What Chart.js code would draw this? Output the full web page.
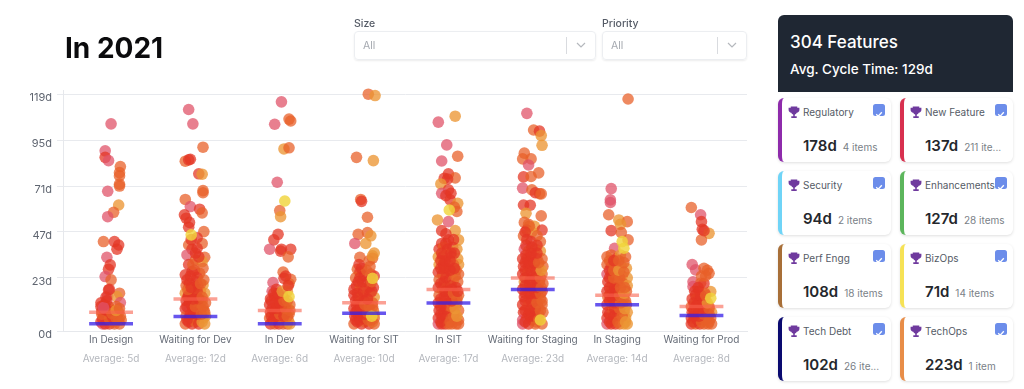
<!DOCTYPE html>
<html>
<head>
<meta charset="utf-8">
<script src="https://cdn.jsdelivr.net/npm/chart.js@4/dist/chart.umd.min.js"></script>
<style>
    * { box-sizing: border-box; }
    html, body { margin: 0; width: 1024px; height: 389px; overflow: hidden; background: #fff; font-family: Inter, sans-serif; }
    #myChart { position: absolute; left: 0; top: 0; }
    .title { position: absolute; left: 65px; top: 32px; font-size: 28px; line-height: 32px; font-weight: 700; color: #0b0b0d; }
    .fieldLabel { position: absolute; top: 17px; font-size: 10.5px; line-height: 13px; font-weight: 500; color: #555b66; }
    .select { position: absolute; top: 31px; height: 29px; border: 1px solid #eceef1; border-radius: 4px; box-shadow: 0 1px 2px rgba(0,0,0,.08); font-size: 10.5px; line-height: 27px; color: #a5a9b0; padding-left: 8px; }
    .select i { position: absolute; right: 28px; top: 5px; height: 17px; border-left: 1px solid #d9dbdf; }
    .select svg { position: absolute; right: 9px; top: 10px; }
    .head { position: absolute; left: 778px; top: 15px; width: 235px; height: 77px; background: #1f2733; border-radius: 6px 6px 0 0; color: #fff; }
    .head b { position: absolute; left: 12px; top: 16px; font-size: 17px; line-height: 22px; font-weight: 500; }
    .head span { position: absolute; left: 12px; top: 45px; font-size: 13.5px; line-height: 18px; font-weight: 500; }
    .card { position: absolute; width: 113px; height: 64px; background: #fff; border-radius: 6px; border-left: 4px solid; box-shadow: 0 1px 3px rgba(0,0,0,.13); }
    .card svg.cup { position: absolute; left: 6px; top: 8px; }
    .card .name { position: absolute; left: 21px; top: 7px; font-size: 10px; line-height: 14px; color: #555b66; white-space: nowrap; }
    .card .check { position: absolute; left: 91px; top: 6px; width: 12px; height: 12px; border-radius: 2.5px; background: #6c8dea; }
    .card .stat { position: absolute; left: 21px; top: 38px; display: flex; align-items: baseline; gap: 6px; white-space: nowrap; }
    .card .days { font-size: 15px; line-height: 20px; font-weight: 600; color: #24272c; }
    .card .items { font-size: 10px; line-height: 14px; color: #7a7f87; }
</style>
</head>
<body>
<canvas id="myChart" width="760" height="389"></canvas>
<div class="title">In 2021</div>
<div class="fieldLabel" style="left:354px">Size</div>
<div class="select" style="left:354px;width:242px">All<i></i><svg width="10" height="7"><path d="M1 1l4 4 4-4" fill="none" stroke="#b5b8bd" stroke-width="1.2"/></svg></div>
<div class="fieldLabel" style="left:602px">Priority</div>
<div class="select" style="left:602px;width:145px">All<i></i><svg width="10" height="7"><path d="M1 1l4 4 4-4" fill="none" stroke="#b5b8bd" stroke-width="1.2"/></svg></div>
<div class="head"><b>304 Features</b><span>Avg. Cycle Time: 129d</span></div>
<div id="cards"></div>

<script>
"use strict";

//region Data
const categories = ["In Design", "Waiting for Dev", "In Dev", "Waiting for SIT", "In SIT", "Waiting for Staging", "In Staging", "Waiting for Prod"];
const averages = [5, 12, 6, 10, 17, 23, 14, 8];
const blueMarks = [-1, 2.8, -1, 4.5, 9.9, 17, 9, 3.3];
const yTicks = [0, 23, 47, 71, 95, 119];

// every dot: [sideways jitter inside its column, days, tone]
const inDesign = [[0,103.5,0],[-.07,89.4,0],[-.07,86,1],[-.03,84.3,0],[.11,81.2,2],[.1,78,2],[.1,76.3,2],[.1,72,2],[.1,71,2],[-.04,68.3,0],[.09,61.1,3],[.03,57.3,2],[-.04,55,0],[-.09,42,2],[.04,42,1],[.09,40.2,1],[.07,38,1],[-.05,33.8,0],[-.01,29.8,1],[-.03,27.5,1],[-.07,23.7,0],[0,22,2],[-.03,16.7,1],[-.04,13.6,0],[.1,15,2],[.07,13.2,3],[.11,10.1,0],[-.12,8,1],[-.02,6.3,3],
    [-.12,0,1],[-.09,3,1],[-.11,5.5,1],[-.06,1,2],[-.05,5,1],[-.02,-1,1],[-.01,3,2],[.02,6,2],[.03,0,1],[.05,4,2],[.07,1,3],[.09,5,2],[.1,-1,2],[.11,3,2],[-.1,-1,0],[-.07,-1,1],[.04,-1,2],[.12,1,2],[-.03,8,1],[-.08,9,1],[0,2,1],[-.05,11,1],[.06,8,2],
    [-.1,1.5,1],[-.06,3.5,1],[-.02,1.5,2],[.02,2.5,1],[.06,2,2],[.09,1,2],[-.11,4,2],[-.08,6.5,1],[-.03,5.5,1],[.01,4.5,2],[.06,6,3],[.1,7,2],[-.12,10,1],[-.09,7.5,0],[-.06,13,1],[-.02,17,1]];
const waitingDev = [[-.08,111,0],[-.03,103.5,0],[.09,91.3,2],[-.12,84,2],[-.08,84.7,1],[-.06,85,1],[.04,77.4,1],[.08,77.2,3],[.09,68.6,2],[.09,67.5,2],[-.12,64,2],[-.06,60.3,0],[.05,58.9,1],[.08,57,2],[-.13,56,1],[-.11,54.2,1],[-.08,49.5,1],[-.05,45.5,4],[.1,47.2,2],[.08,41,2],[-.08,40.2,2],[.02,38.5,1],[-.04,38,1],[.11,33.8,2],[-.1,35,0],[0,32.4,2],[.08,31.5,3],[-.12,24.6,1],[-.04,26.3,1],[.05,25.4,2],[.02,23.3,1],[.09,19.3,3],
    [-.11,19,2],[-.07,20,1],[-.02,18,2],[.03,19,1],[-.12,15,3],[-.08,14,1],[-.04,15,1],[.01,14,2],[.06,16,2],[.11,15,3],[-.11,11,1],[-.07,10,1],[-.02,11,2],[.03,9,2],[.08,11,2],[.12,10,2],[-.12,7,1],[-.08,6,0],[-.03,7,1],[.02,6,3],[.06,7,2],[.1,6,2],[-.11,3,2],[-.07,2,1],[-.03,3,1],[.01,2,2],[.05,3,1],[.09,2,3],[.12,3,3],[-.12,-1,2],[-.08,0,1],[-.04,-1,1],[0,0,2],[.04,-1,1],[.08,0,3],[.11,-1,3],
    [-.1,1,1],[-.06,4,1],[-.02,5,1],[.02,4,1],[.07,4,2],[.11,5,2],[-.1,8,1],[-.05,9,1],[0,8,2],[.04,12,1],[.09,8,2],[-.09,13,1],[-.03,12,1],[.02,16,1],[.08,13,2],[-.09,17,2],[-.05,18,1],[.01,21,1],[.06,20,2],[.1,22,2],[-.1,22,1],[-.06,24,1],[-.01,27,1],[.09,28,2],[-.08,30,1],[-.03,30,2],[.04,34,1],[-.05,43,1],[.02,44,1],[-.07,52,1],[0,36,1]];
const inDev = [[.02,115,0],[.11,106,2],[.13,105,2],[-.06,103.3,0],[.05,90.4,3],[.11,91,2],[-.03,73,0],[.06,63.2,4],[0,58.2,2],[.01,55,3],[-.02,45.8,1],[-.07,42.9,1],[-.12,38,0],[.02,38,1],[.01,37,1],[.13,38,1],[.1,34,2],[.04,26,2],[.05,22.8,1],[.13,22.3,2],[.11,20,2],[-.08,20.6,0],[.09,15.9,3],[.11,13.2,4],
    [-.09,16,0],[-.04,17,1],[-.11,12,1],[-.06,13,1],[-.01,12,2],[.04,13,2],[.12,9,2],[-.12,9,1],[-.08,8,0],[-.02,9,2],[.05,9,2],[.09,8,3],[-.11,5,1],[-.06,5,1],[-.01,6,2],[.03,5,3],[.07,5,2],[.11,4,2],[-.12,2,2],[-.08,1,1],[-.03,2,1],[.02,2,2],[.06,1,3],[.1,1,2],[-.11,-1,1],[-.06,-1,2],[-.01,-1,1],[.04,-1,2],[.09,-1,2],[.12,-1,3],
    [-.1,3,1],[-.05,3,1],[0,4,2],[.05,3,1],[.09,3,2],[.12,6,2],[-.09,7,1],[-.04,7,1],[.02,8,1],[.07,7,2],[-.1,11,1],[-.05,10,1],[0,10,1],[.05,11,2],[.09,11,2],[-.07,15,1],[-.02,15,1],[.03,16,3],[.07,24,1],[.1,19,1]];
const waitingSit = [[.05,119,2],[.13,118.3,3],[-.09,86,2],[.11,84.3,3],[-.04,64,2],[-.03,63,1],[.04,54.7,2],[-.07,45.8,2],[.04,46.7,2],[.08,45,3],[-.11,41,0],[.02,41,3],[.12,36,3],[-.05,33.8,2],[.1,33.3,2],[.06,32,2],[.1,34.5,3],[-.08,27.5,2],[-.05,26,1],[.1,22.8,4],[.03,17.6,3],
    [-.1,23,2],[-.05,23,1],[0,24,1],[.08,25,2],[.12,24,1],[-.09,19,1],[-.12,17,1],[-.04,18,2],[.07,19,2],[.11,18,1],[-.12,14,1],[-.08,15,1],[-.03,13,2],[.02,14,2],[.07,15,1],[.12,13,3],[-.1,11,1],[-.05,10,2],[0,11,1],[.05,10,2],[.1,10,2],[-.12,7,1],[-.08,6,1],[-.03,7,2],[.02,6,2],[.06,7,1],[.11,6,2],[-.11,3,1],[-.06,3,1],[-.01,2,2],[.04,3,1],[.09,3,4],[.12,2,2],[-.12,-1,2],[-.08,0,1],[-.03,-1,1],[.01,0,2],[.06,-1,1],[.1,0,3],[.12,-1,2],
    [-.1,1,1],[-.05,1,1],[0,2,1],[.05,1,2],[.09,1,2],[-.1,5,1],[-.05,5,1],[0,4,1],[.04,5,2],[.08,4,2],[.12,4,3],[-.09,9,1],[-.04,8,1],[.01,9,2],[.06,8,2],[.1,8,2],[-.07,13,1],[-.01,16,1],[.04,12,1],[.09,16,1],[-.07,21,1],[-.02,21,1],[.04,21,1],[.09,21,2],[-.03,28,1],[.03,27,2],[.07,29,2],[-.06,30,1]];
const inSit = [[-.12,104.4,0],[.08,107.5,3],[-.02,92.5,0],[.11,86.6,2],[-.08,84.1,0],[0,77.4,1],[.08,75.3,2],[-.05,75,1],[-.01,74.7,1],[-.09,72.1,3],[0,69,1],[-.08,67.2,0],[.03,67.2,1],[.02,63.8,1],[-.03,66,1],[.11,62,3],[.01,58.5,4],[.1,57.7,2],[.07,60,2],[-.13,53.3,3],[0,52.4,0],[.08,47.7,3],[-.08,47.7,1],[.12,42.9,3],[0,42.9,1],[-.08,41,1],[-.03,46,1],
    [-.11,38,1],[-.06,39,2],[-.01,38,1],[.05,39,1],[.1,38,3],[-.12,34,3],[-.07,34,1],[-.02,35,2],[.04,34,1],[.11,33,3],[.12,30,3],[-.11,30,3],[-.06,30,1],[0,30,1],[.06,30,2],[-.12,26,1],[-.07,25,1],[-.02,26,2],[.04,26,1],[.09,27,2],[.12,25,2],[-.11,22,2],[-.05,21,1],[.01,22,1],[.06,22,3],[.11,21,2],[-.12,18,1],[-.07,17,1],[-.02,18,2],[.04,17,1],[.09,18,1],[-.11,14,2],[-.05,13,1],[.01,14,2],[.07,13,1],[.12,14,2],[-.12,10,1],[-.06,9,2],[0,10,1],[.05,9,2],[.1,10,2],[-.11,6,1],[-.05,5,1],[.02,6,3],[.07,5,3],[.12,6,2],[-.12,2,1],[-.07,2,1],[-.02,1,2],[.03,2,3],[.08,2,3],[.12,1,2],[-.12,-1,0],[-.08,-1,1],[-.04,-1,1],[0,-1,2],[.04,-1,2],[.09,-1,2],[.12,-1,2],
    [-.09,0,1],[-.03,3,1],[.02,0,2],[.06,3,2],[.1,3,3],[-.09,4,1],[-.03,7,1],[.03,8,2],[.08,7,3],[-.09,8,1],[-.03,12,1],[.04,11,1],[.1,12,2],[-.09,12,1],[-.04,16,1],[.01,16,1],[.06,15,2],[.11,16,1],[-.09,20,1],[-.03,23,1],[.03,19,1],[.08,24,2],[-.09,28,1],[-.04,28,1],[.02,27,1],[.07,28,1],[-.09,32,1],[-.04,32,1],[.02,32,1],[.07,36,1],[-.08,36,1],[-.03,41,1],[.03,36,1],[.06,43,1]];
const waitingStaging = [[-.07,109,0],[.01,100.3,2],[.08,99.7,1],[.1,97.4,3],[.11,92.3,3],[-.1,88.2,2],[-.12,85.2,2],[-.02,85.2,2],[-.05,82,0],[.07,77.9,2],[-.11,75.8,1],[-.02,76,2],[-.12,69.9,0],[-.01,69,2],[.08,67,2],[.03,67.5,1],[.1,66.9,2],[-.11,61.1,1],[-.03,61,1],[-.08,56.8,3],[.1,55.4,2],[-.05,51,2],[-.1,52,2],[.02,50,3],[.11,48,1],[-.07,48,1],[-.01,47,3],[-.11,45,2],
    [.05,45,2],[-.07,43,1],[-.02,42,1],[.09,42,2],[.03,38,2],[.09,37,3],[-.1,38,0],[-.05,37,2],[-.12,33,1],[-.07,33,1],[-.02,34,1],[.05,33,1],[.11,33,2],[-.11,29,1],[-.05,29,1],[.01,29,2],[.07,29,3],[.12,29,2],[-.12,25,1],[-.06,25,2],[0,24,1],[.06,25,3],[.11,25,2],[-.1,21,3],[-.04,20,1],[.02,21,2],[.08,21,1],[.12,20,2],[-.12,17,1],[-.06,16,2],[0,17,1],[.06,16,2],[.11,16,1],[-.1,13,1],[-.04,12,2],[.03,13,1],[.09,12,2],[-.12,9,1],[-.06,8,2],[0,9,2],[.06,8,1],[.11,9,2],[-.11,5,1],[-.05,4,1],[.01,5,2],[.07,4,3],[.12,5,2],[-.12,1,0],[-.07,2,1],[-.01,1,1],[.04,0,2],[.09,1,4],[-.12,-1,0],[-.05,-1,1],[.03,-1,2],[.11,-1,2],
    [-.09,0,1],[-.03,3,1],[.02,3,1],[.07,1,2],[-.09,6,1],[-.03,6,1],[.03,7,1],[.09,6,2],[-.09,11,1],[-.02,11,1],[.05,10,2],[.11,11,2],[-.09,15,1],[-.03,15,1],[.03,15,1],[.09,15,2],[-.09,19,1],[-.02,18,1],[.05,18,1],[.1,18,2],[-.09,23,1],[-.03,22,1],[.03,23,1],[.09,23,2],[-.09,27,1],[-.02,27,1],[.04,27,1],[.1,27,3],[-.09,31,1],[-.04,31,1],[.02,31,1],[.07,31,2],[-.08,35,1],[-.02,36,1],[.05,36,1],[-.08,40,1],[-.01,39,1],[.05,40,1],[-.04,50,2],[-.09,47,1]];
const inStaging = [[.13,116.5,2],[-.07,69.7,0],[-.08,63.8,0],[-.08,62.4,0],[-.1,56,2],[.02,53.3,3],[.12,52.4,2],[.04,51,3],[-.07,47.7,1],[.05,46.7,2],[.13,42.9,2],[.06,42,4],[.08,38.5,4],[-.03,38.5,0],
    [-.12,34,2],[-.07,35,2],[-.01,33,1],[.04,35,3],[.1,34,2],[-.12,30,2],[-.07,29,1],[-.02,30,2],[.05,29,2],[.11,28,3],[-.12,25,0],[-.07,25,1],[-.01,25,3],[.06,24,2],[.12,23,3],[-.11,21,1],[-.05,20,2],[.01,21,2],[.07,20,2],[.12,19,3],[-.12,16,1],[-.07,16,2],[-.01,17,1],[.05,16,3],[.11,16,2],[-.11,13,2],[-.05,12,1],[.02,12,2],[.08,12,3],[-.12,9,1],[-.06,8,2],[0,9,3],[.06,9,1],[.11,9,2],[-.11,5,1],[-.05,5,3],[.02,5,2],[.08,5,2],[.12,5,3],[-.12,2,1],[-.07,1,2],[-.01,2,2],[.05,1,3],[.1,2,3],[-.12,-1,0],[-.07,-1,1],[-.02,-1,1],[.03,-1,2],[.08,-1,3],[.12,-1,3],
    [-.09,0,1],[-.04,3,1],[.01,0,2],[.06,3,2],[.1,0,3],[-.09,4,1],[-.03,7,1],[.03,7,2],[.09,7,3],[-.09,11,1],[-.03,10,1],[.04,10,2],[.1,11,2],[-.09,14,1],[-.03,14,1],[.03,14,2],[.08,15,3],[-.09,18,1],[-.03,18,1],[.04,18,2],[.09,18,2],[-.09,23,1],[-.04,23,2],[.03,23,2],[-.09,27,1],[-.04,27,2],[.02,27,3],[.08,26,2],[-.09,32,2],[-.04,32,1],[.02,32,2],[.08,31,2]];
const waitingProd = [[-.12,59.8,2],[-.01,56,0],[0,52.4,1],[.01,48.4,1],[.09,46.3,3],[0,42.9,2],[.03,47.7,1],[-.11,30,0],[-.07,27.2,0],[.03,28,2],[.09,25.4,2],[.07,27,2],[-.1,21,0],[-.01,20.2,2],[.11,15.9,3],[-.1,18.5,0],[.11,12.4,4],[.03,20,1],
    [-.08,16,1],[-.03,16,1],[.04,15,2],[-.11,12,1],[-.06,12,2],[-.01,12,1],[.05,11,2],[-.12,8,2],[-.07,8,1],[-.02,8,2],[.04,8,1],[.09,8,2],[-.11,5,1],[-.05,5,2],[.01,5,2],[.07,5,2],[.12,5,3],[-.12,2,1],[-.06,2,1],[0,2,3],[.06,2,2],[.11,2,2],[-.12,-1,1],[-.07,-1,2],[-.02,-1,1],[.03,-1,2],[.08,-1,2],[.12,-1,2],
    [-.1,0,1],[-.05,1,1],[0,0,2],[.04,1,2],[.09,0,2],[-.09,3,1],[-.03,3,1],[.03,4,2],[.09,4,2],[-.09,6,1],[-.03,6,1],[.03,7,1],[.09,7,2],[-.09,10,1],[-.04,10,1],[.02,10,1],[.07,10,3],[-.07,14,1],[-.01,14,1],[.05,14,2],[-.04,18,1],[0,24,2],[.05,24,2]];

const columns = [inDesign, waitingDev, inDev, waitingSit, inSit, waitingStaging, inStaging, waitingProd];

const workTypes = ["Regulatory", "New Feature", "Security", "Enhancements", "Perf Engg", "BizOps", "Tech Debt", "TechOps"];
const workDays = ["178d", "137d", "94d", "127d", "108d", "71d", "102d", "223d"];
const workItems = ["4 items", "211 ite...", "2 items", "28 items", "18 items", "14 items", "26 ite...", "1 item"];
const workColors = ["#8e2bab", "#d8304f", "#6fd4f7", "#5cb65c", "#a86f38", "#f6e255", "#0a0a70", "#e88d48"];
//endregion

//region Chart
const toneColors = ["rgba(224,82,104,.74)", "rgba(228,54,36,.74)", "rgba(232,96,40,.74)", "rgba(236,150,52,.78)", "rgba(240,212,60,.82)"];
const xMin = -0.57, xMax = 7.54;
const yMin = -4.9, yMax = 121.2;
const barHalf = 0.26;

function barPoints(values) {
    let points = [];
    values.forEach(function (value, i) {
        points.push({x: i - barHalf, y: value}, {x: i + barHalf, y: value}, {x: i + barHalf, y: null});
    });
    return points;
}

let dotData = [], dotColors = [];
columns.forEach(function (column, i) {
    // yellow ones stay visible on top of the pile
    column.slice().sort(function (a, b) { return (a[2] === 4) - (b[2] === 4); }).forEach(function (dot) {
        dotData.push({x: i + dot[0], y: dot[1]});
        dotColors.push(toneColors[dot[2]]);
    });
});

function columnTicks(scale) {
    scale.ticks = categories.map(function (c, i) { return {value: i}; });
}

new Chart(document.getElementById("myChart"), {
    type: "scatter",
    data: {
        datasets: [
            {data: barPoints(blueMarks), type: "line", order: 0, borderColor: "rgba(52,30,232,.75)", borderWidth: 3.5, pointRadius: 0, spanGaps: false, borderCapStyle: "butt"},
            {data: barPoints(averages), type: "line", order: 1, borderColor: "rgba(248,98,78,.6)", borderWidth: 3.5, pointRadius: 0, spanGaps: false, borderCapStyle: "butt"},
            {data: dotData, order: 2, backgroundColor: dotColors, borderWidth: 0, pointRadius: 5.8, clip: false}
        ]
    },
    options: {
        responsive: false,
        animation: false,
        layout: {padding: {top: 90, right: 13, left: 0, bottom: 0}},
        plugins: {legend: {display: false}, tooltip: {enabled: false}},
        scales: {
            x: {
                type: "linear", position: "bottom", min: xMin, max: xMax, weight: 1,
                grid: {display: false, drawTicks: false},
                border: {color: "#e6e8ec"},
                afterBuildTicks: columnTicks,
                afterFit: function (scale) { scale.height = 20; },
                ticks: {
                    autoSkip: false, maxRotation: 0, padding: 3, color: "#666c77",
                    font: {family: "Inter", size: 10},
                    callback: function (value) { return categories[value]; }
                }
            },
            xAverage: {
                type: "linear", position: "bottom", min: xMin, max: xMax, weight: 2,
                grid: {display: false, drawTicks: false},
                border: {display: false},
                afterBuildTicks: columnTicks,
                afterFit: function (scale) { scale.height = 37.7; },
                ticks: {
                    autoSkip: false, maxRotation: 0, padding: 2, color: "#b4b7bd",
                    font: {family: "Inter", size: 10},
                    callback: function (value) { return "Average: " + averages[value] + "d"; }
                }
            },
            y: {
                min: yMin, max: yMax,
                grid: {color: "#e8eaee", tickLength: 6},
                border: {color: "#e6e8ec"},
                // first tick sits on the axis floor, a few px under the real zero
                afterBuildTicks: function (scale) {
                    scale.ticks = yTicks.map(function (v) { return {value: v === 0 ? yMin : v}; });
                },
                afterFit: function (scale) { scale.width = 63; },
                ticks: {
                    padding: 5, color: "#5f6570",
                    // empty first line pushes the text just under its grid line
                    font: {family: "Inter", size: 11, lineHeight: 0.65},
                    callback: function (value) { return ["", (value === yMin ? 0 : value) + "d"]; }
                }
            }
        }
    }
});
//endregion

//region Cards
const cupIcon = '<svg class="cup" width="12" height="13" viewBox="0 0 11 12"><path d="M2.5 0.5h6v1h2v2c0 1.6-1.1 2.6-2.5 2.8-.4 1-1.100 1.500-1.800 1.700v1.500h1.800v1.500h-5v-1.500h1.800v-1.500c-.7-.2-1.400-.7-1.800-1.700C1.600 6.100.5 5.100.5 3.500v-2h2z" fill="#6f3a9e"/></svg>';
const tickIcon = '<svg width="12" height="12"><path d="M3.200 6.200l2 2 3.600-4" fill="none" stroke="#fff" stroke-width="1.300"/></svg>';

workTypes.forEach(function (name, i) {
    let card = document.createElement("div");
    card.className = "card";
    card.style.left = (i % 2 ? 900 : 778) + "px";
    card.style.top = (98 + 73 * Math.floor(i / 2)) + "px";
    card.style.borderLeftColor = workColors[i];
    card.innerHTML = cupIcon +
        '<div class="name">' + name + '</div>' +
        '<div class="check">' + tickIcon + '</div>' +
        '<div class="stat"><span class="days">' + workDays[i] + '</span><span class="items">' + workItems[i] + '</span></div>';
    document.getElementById("cards").appendChild(card);
});
//endregion
</script>
</body>
</html>
